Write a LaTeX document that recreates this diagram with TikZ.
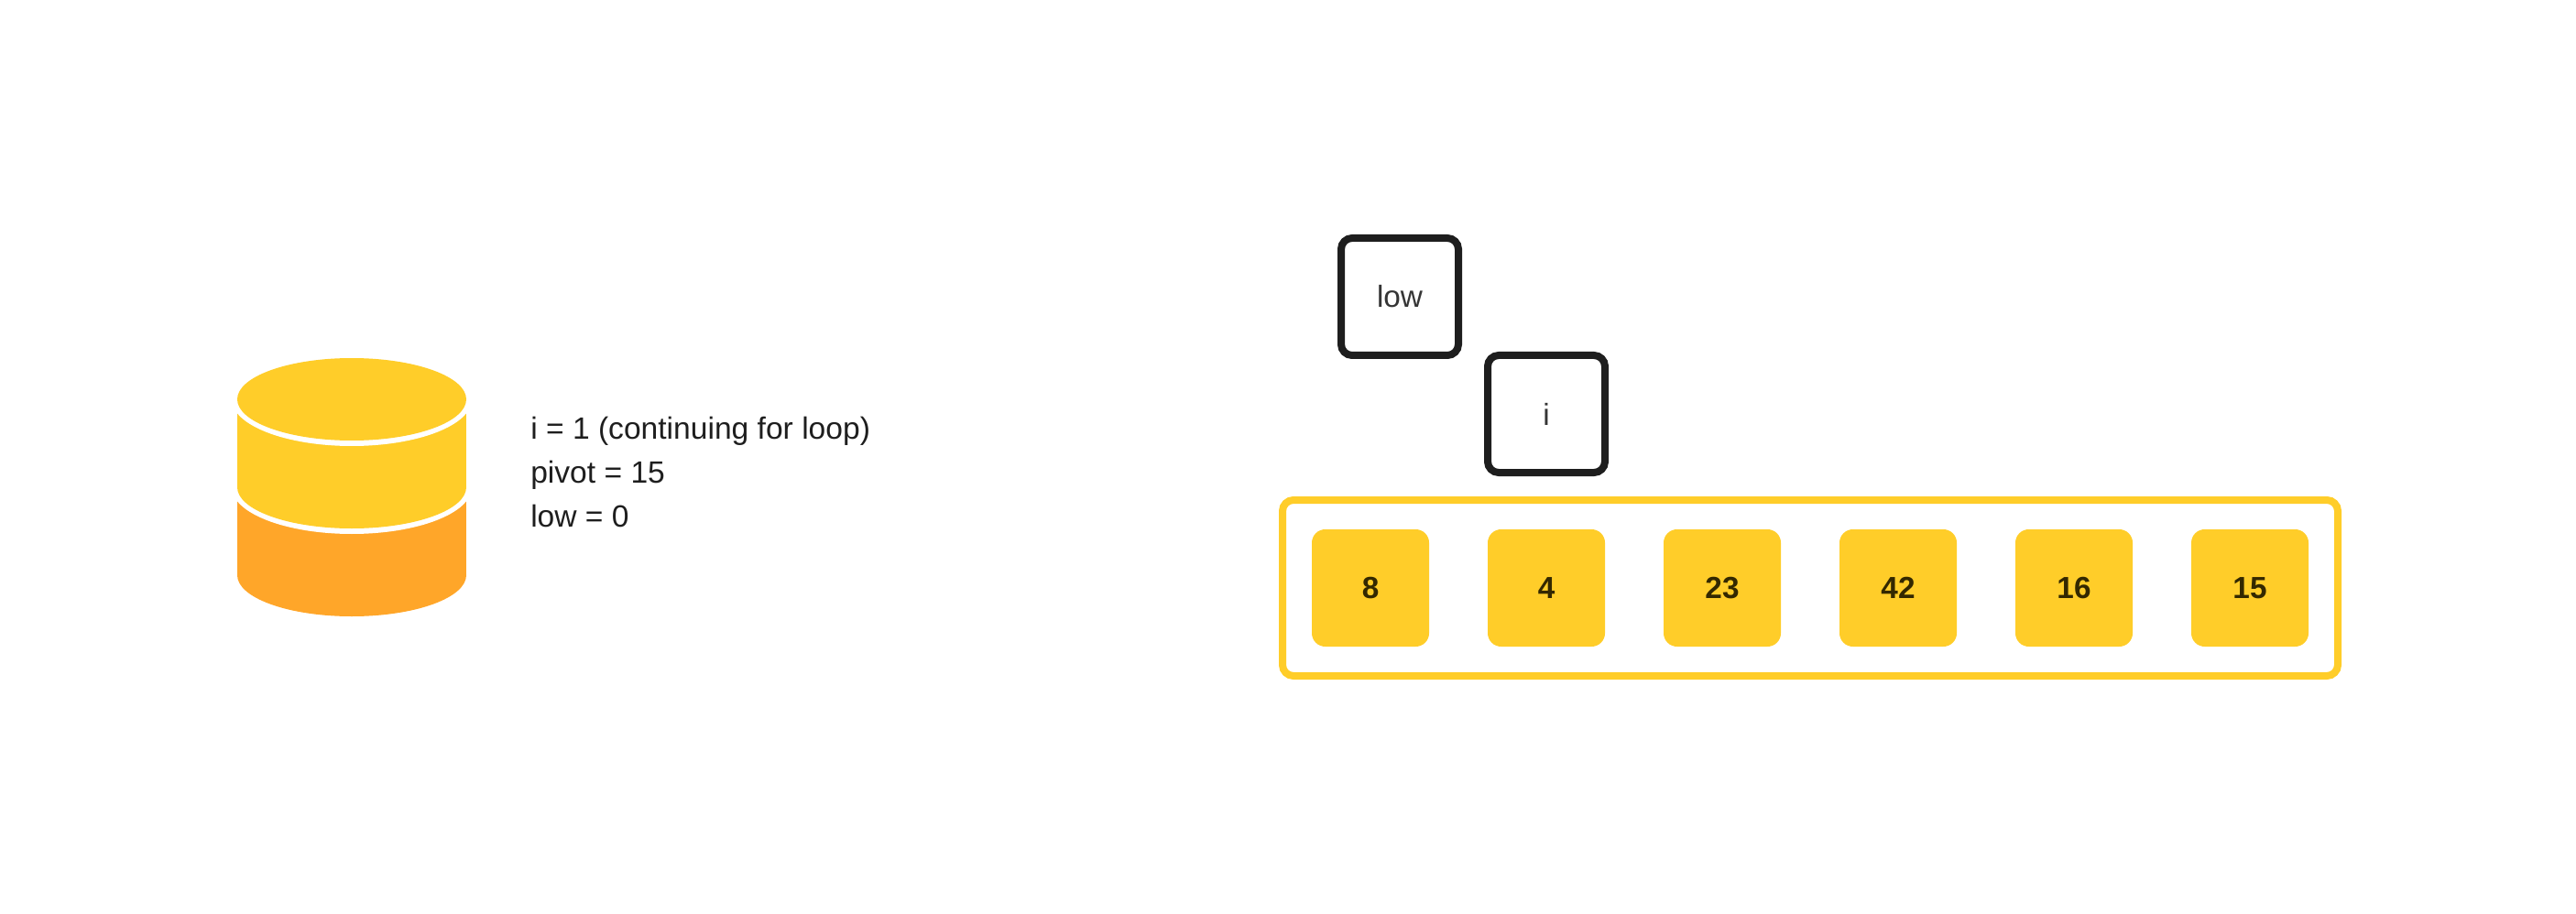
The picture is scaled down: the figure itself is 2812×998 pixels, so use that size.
\documentclass[tikz,border=0pt]{standalone}
\usepackage{fontspec}
\setmainfont{Liberation Sans}
\definecolor{cellyellow}{HTML}{FFCD29}
\definecolor{stackorange}{HTML}{FFA629}
\definecolor{boxdark}{HTML}{1E1E1E}
\definecolor{numbrown}{HTML}{332800}
\tikzset{
    cellbox/.style={fill=cellyellow,minimum width=96pt,minimum height=96pt,rounded corners=11pt,inner sep=0pt,text=numbrown,font=\fontsize{25}{30}\selectfont\bfseries},
    ptrbox/.style={draw=boxdark,line width=6pt,minimum width=96pt,minimum height=96pt,rounded corners=9pt,inner sep=0pt,text=boxdark!90,font=\fontsize{25}{30}\selectfont},
    arraybox/.style={draw=cellyellow,line width=6pt,minimum width=864pt,minimum height=144pt,rounded corners=9pt,inner sep=0pt}
}
\begin{document}
\begin{tikzpicture}[x=0.75pt,y=0.75pt,yscale=-1,xscale=1]
    \useasboundingbox (0,0) rectangle (2812,998);

    %Stack: bottom layer
    \fill[stackorange] (259,532) rectangle (509,628);
    \fill[stackorange] (384,628) ellipse (125 and 45);
    %Stack: middle layer
    \fill[white] (384,532) ellipse (131 and 51);
    \fill[cellyellow] (259,436) rectangle (509,532);
    \fill[cellyellow] (384,532) ellipse (125 and 45);
    %Stack: top layer
    \fill[white] (384,436) ellipse (131 and 51);
    \fill[cellyellow] (384,436) ellipse (125 and 45);

    % Text Node
    \draw (579,515) node (stateText) [anchor=west,align=left,inner sep=0pt,text=boxdark,font=\fontsize{25.2}{36}\selectfont] {i = 1 (continuing for loop)\\pivot = 15\\low = 0};

    %Pointers
    \draw (1528,324) node (lowPtr) [ptrbox] {low};
    \draw (1688,452) node (iPtr) [ptrbox] {i};

    %Array
    \draw (1976,642) node (arrayFrame) [arraybox] {};
    \foreach \val [count=\k from 0] in {8,4,23,42,16,15} {
        \draw (1496+192*\k,642) node (cell\k) [cellbox] {\val};
    }
\end{tikzpicture}
\end{document}
